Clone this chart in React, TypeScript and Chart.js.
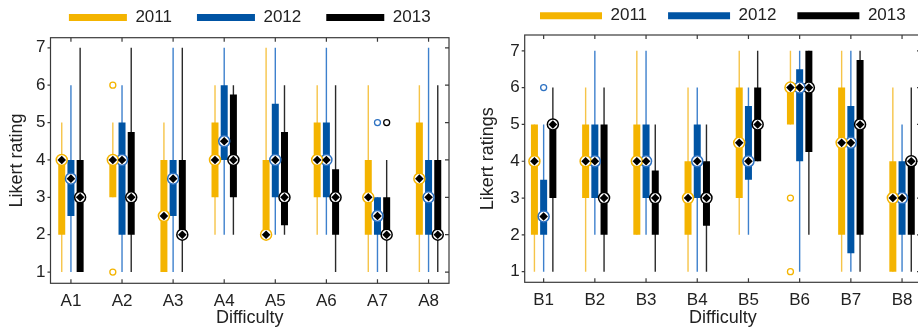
import React, { useEffect, useRef } from 'react';
import { Chart, registerables } from 'chart.js';

Chart.register(...registerables);
Chart.defaults.font.family = "'Liberation Sans', Arial, Helvetica, sans-serif";
Chart.defaults.color = '#222';

const YEARS = ['2011', '2012', '2013'];
const Y_TICKS = [1, 2, 3, 4, 5, 6, 7];

// ---------- Panel A ----------
const A_CATEGORIES = ['A1', 'A2', 'A3', 'A4', 'A5', 'A6', 'A7', 'A8'];

const A_2011_LOW = [1, 3, 1, 2, 2, 2, 1, 1];
const A_2011_Q1 = [2, 3, 1, 3, 2, 3, 2, 2];
const A_2011_MEDIAN = [4, 4, 2.5, 4, 2, 4, 3, 3.5];
const A_2011_Q3 = [4, 4, 4, 5, 4, 5, 4, 5];
const A_2011_HIGH = [5, 5, 5, 6, 7, 6, 6, 6];
const A_2011_OUTLIERS: [string, number][] = [['A2', 6], ['A2', 1]];

const A_2012_LOW = [1, 1, 1, 2, 2, 2, 1, 1];
const A_2012_Q1 = [2.5, 2, 2.5, 4, 3, 3, 2, 2];
const A_2012_MEDIAN = [3.5, 4, 3.5, 4.5, 4, 4, 2.5, 3];
const A_2012_Q3 = [4, 5, 4, 6, 5.5, 5, 3, 4];
const A_2012_HIGH = [6, 6, 7, 7, 7, 7, 3, 7];
const A_2012_OUTLIERS: [string, number][] = [['A7', 5]];

const A_2013_LOW = [1, 1, 1, 2, 2, 1, 1, 1];
const A_2013_Q1 = [1, 2, 2, 3, 2.25, 2, 2, 2];
const A_2013_MEDIAN = [3, 3, 2, 4, 3, 3, 2, 2];
const A_2013_Q3 = [4, 4.75, 4, 5.75, 4.75, 3.75, 3, 4];
const A_2013_HIGH = [7, 7, 7, 6, 6, 6, 4, 6];
const A_2013_OUTLIERS: [string, number][] = [['A7', 5]];

// ---------- Panel B ----------
const B_CATEGORIES = ['B1', 'B2', 'B3', 'B4', 'B5', 'B6', 'B7', 'B8'];

const B_2011_LOW = [1, 1, 2, 1, 2, 5, 1, 1];
const B_2011_Q1 = [2, 3, 2, 2, 3, 5, 2, 1];
const B_2011_MEDIAN = [4, 4, 4, 3, 4.5, 6, 4.5, 3];
const B_2011_Q3 = [5, 5, 5, 4, 6, 6, 6, 4];
const B_2011_HIGH = [5, 6, 7, 6, 7, 7, 7, 6];
const B_2011_OUTLIERS: [string, number][] = [['B6', 3], ['B6', 1]];

const B_2012_LOW = [1, 2, 2, 1, 2, 1, 1, 1];
const B_2012_Q1 = [2, 3, 3, 3, 3.5, 4, 1.5, 2];
const B_2012_MEDIAN = [2.5, 4, 4, 4, 4, 6, 4.5, 3];
const B_2012_Q3 = [3.5, 5, 5, 5, 5.5, 6.5, 5.5, 4];
const B_2012_HIGH = [5, 7, 7, 6, 6, 7, 7, 5];
const B_2012_OUTLIERS: [string, number][] = [['B1', 6]];

const B_2013_LOW = [1, 1, 1, 1, 4, 2, 1, 1];
const B_2013_Q1 = [3, 2, 2, 2.25, 4, 4.25, 2, 2];
const B_2013_MEDIAN = [5, 3, 3, 3, 5, 6, 5, 4];
const B_2013_Q3 = [5, 5, 3.75, 4, 6, 7, 6.75, 4];
const B_2013_HIGH = [6, 6, 5, 5, 7, 7, 7, 6];
const B_2013_OUTLIERS: [string, number][] = [];

// ---------- styles ----------
const BOX_COLORS = ['#F4B400', '#0054A4', '#000000'];
const WHISKER_COLORS = ['#F6C448', '#3D80CD', '#2a2a2a'];
const RING_COLORS = ['#F4B400', '#2E72C2', '#000000'];
const TEXT = '#222222';
const FRAME = '#3a3a3a';
const CAT_PCT = 0.54;
const BAR_PCT = 0.76;
const LEGEND_FONT = 17;

type Series = {
  low: number[];
  q1: number[];
  median: number[];
  q3: number[];
  high: number[];
  outliers: [string, number][];
};

const A_SERIES: Series[] = [
  { low: A_2011_LOW, q1: A_2011_Q1, median: A_2011_MEDIAN, q3: A_2011_Q3, high: A_2011_HIGH, outliers: A_2011_OUTLIERS },
  { low: A_2012_LOW, q1: A_2012_Q1, median: A_2012_MEDIAN, q3: A_2012_Q3, high: A_2012_HIGH, outliers: A_2012_OUTLIERS },
  { low: A_2013_LOW, q1: A_2013_Q1, median: A_2013_MEDIAN, q3: A_2013_Q3, high: A_2013_HIGH, outliers: A_2013_OUTLIERS },
];
const B_SERIES: Series[] = [
  { low: B_2011_LOW, q1: B_2011_Q1, median: B_2011_MEDIAN, q3: B_2011_Q3, high: B_2011_HIGH, outliers: B_2011_OUTLIERS },
  { low: B_2012_LOW, q1: B_2012_Q1, median: B_2012_MEDIAN, q3: B_2012_Q3, high: B_2012_HIGH, outliers: B_2012_OUTLIERS },
  { low: B_2013_LOW, q1: B_2013_Q1, median: B_2013_MEDIAN, q3: B_2013_Q3, high: B_2013_HIGH, outliers: B_2013_OUTLIERS },
];

const framePlugin = {
  id: 'frameTicks',
  afterLayout(chart: any, _args: any, opts: any) {
    // centre the legend row over the plot area and place its text row
    const lg = chart.legend;
    const a = chart.chartArea;
    if (lg && a && lg.lineWidths) {
      const pad = lg.options.labels.padding || 0;
      const half = (lg.lineWidths[0] + pad) / 2 + 2;
      const c = (a.left + a.right) / 2;
      lg.left = c - half;
      lg.right = c + half;
      lg.width = 2 * half;
      if (opts && typeof opts.legendTextY === 'number') {
        const h = lg.height;
        lg.top = opts.legendTextY - pad - LEGEND_FONT / 2;
        lg.bottom = lg.top + h;
      }
    }
  },
  afterDraw(chart: any) {
    const { ctx, chartArea } = chart;
    const { left, right, top, bottom } = chartArea;
    const x = chart.scales.x;
    const y = chart.scales.y;
    ctx.save();
    ctx.strokeStyle = FRAME;
    ctx.lineWidth = 1.2;
    ctx.strokeRect(left, top, right - left, bottom - top);
    ctx.beginPath();
    x.ticks.forEach((t: any) => {
      const px = x.getPixelForValue(t.value);
      ctx.moveTo(px, bottom);
      ctx.lineTo(px, bottom - 4);
      ctx.moveTo(px, top);
      ctx.lineTo(px, top + 4);
    });
    y.ticks.forEach((t: any) => {
      const py = y.getPixelForValue(t.value);
      ctx.moveTo(left - 3, py);
      ctx.lineTo(left, py);
      ctx.moveTo(right, py);
      ctx.lineTo(right - 4, py);
    });
    ctx.stroke();
    ctx.restore();
  },
};

type PanelProps = {
  categories: string[];
  series: Series[];
  yTitle: string;
  left: number;
  width: number;
  xMin: number;
  xMax: number;
  yMin: number;
  yMax: number;
  yAxisWidth: number;
  yTitlePad: number;
  padRight: number;
  plotTop: number;
  xAxisHeight: number;
  legendBoxWidth: number;
  legendPadding: number;
  legendTextY: number;
};

function Panel(props: PanelProps) {
  const ref = useRef<HTMLCanvasElement>(null);
  useEffect(() => {
    const canvas = ref.current;
    if (!canvas) return;
    const {
      categories, series, yTitle, xMin, xMax, yMin, yMax, yAxisWidth, yTitlePad,
      padRight, plotTop, xAxisHeight, legendBoxWidth, legendPadding, legendTextY,
    } = props;
    const slot = CAT_PCT / 3;
    const datasets: any[] = [];
    // legend height in Chart.js = font size + padding + 10
    const padTop = plotTop - (LEGEND_FONT + legendPadding + 10);

    series.forEach((s, k) => {
      datasets.push({
        type: 'bar',
        label: YEARS[k],
        stack: 'g' + k,
        data: categories.map((_, i) => ({ x: i + 1, y: [s.q1[i], s.q3[i]] })),
        backgroundColor: BOX_COLORS[k],
        borderColor: BOX_COLORS[k],
        borderWidth: 0,
        categoryPercentage: CAT_PCT,
        barPercentage: BAR_PCT,
        order: 4,
      });
    });
    series.forEach((s, k) => {
      datasets.push({
        type: 'bar',
        label: 'whisker' + k,
        stack: 'g' + k,
        data: categories.map((_, i) => ({ x: i + 1, y: [s.low[i], s.high[i]] })),
        backgroundColor: WHISKER_COLORS[k],
        borderWidth: 0,
        categoryPercentage: CAT_PCT,
        barPercentage: BAR_PCT,
        maxBarThickness: 1.4,
        order: 5,
      });
    });
    series.forEach((s, k) => {
      datasets.push({
        type: 'scatter',
        label: 'outlier' + k,
        data: s.outliers.map(([c, v]) => ({ x: categories.indexOf(c) + 1 + (k - 1) * slot, y: v })),
        pointRadius: 3,
        pointBackgroundColor: '#ffffff',
        pointBorderColor: RING_COLORS[k],
        pointBorderWidth: 1.3,
        order: 3,
      });
      datasets.push({
        type: 'scatter',
        label: 'ring' + k,
        data: categories.map((_, i) => ({ x: i + 1 + (k - 1) * slot, y: s.median[i] })),
        pointRadius: 5.5,
        pointBackgroundColor: '#ffffff',
        pointBorderColor: RING_COLORS[k],
        pointBorderWidth: 1.5,
        order: 2,
      });
      datasets.push({
        type: 'scatter',
        label: 'dot' + k,
        data: categories.map((_, i) => ({ x: i + 1 + (k - 1) * slot, y: s.median[i] })),
        pointStyle: 'rectRot',
        pointRadius: 4.3,
        pointBackgroundColor: '#000000',
        pointBorderColor: '#000000',
        pointBorderWidth: 0,
        order: 1,
      });
    });

    const chart = new Chart(canvas, {
      type: 'bar',
      data: { datasets },
      plugins: [framePlugin],
      options: {
        responsive: false,
        maintainAspectRatio: false,
        animation: false,
        events: [],
        layout: { padding: { left: 0, right: padRight, top: padTop, bottom: 0 } },
        plugins: {
          tooltip: { enabled: false },
          frameTicks: { legendTextY },
          legend: {
            display: true,
            position: 'top',
            labels: {
              boxWidth: legendBoxWidth,
              boxHeight: 7,
              padding: legendPadding,
              color: TEXT,
              font: { size: LEGEND_FONT },
              filter: (item: any) => YEARS.includes(item.text),
            },
          },
        },
        scales: {
          x: {
            type: 'linear',
            min: xMin,
            max: xMax,
            offset: false,
            grid: { display: false, drawTicks: false },
            border: { display: false },
            afterBuildTicks: (scale: any) => {
              scale.ticks = categories.map((_, i) => ({ value: i + 1 }));
            },
            ticks: {
              autoSkip: false,
              maxRotation: 0,
              minRotation: 0,
              padding: 8,
              color: TEXT,
              font: { size: 17 },
              callback: (v: any) => categories[Math.round(Number(v)) - 1] ?? '',
            },
            title: {
              display: true,
              text: 'Difficulty',
              color: TEXT,
              font: { size: 18 },
              padding: { top: 0, bottom: 0 },
            },
            afterFit: (scale: any) => {
              scale.height = xAxisHeight;
              scale.paddingLeft = 0;
              scale.paddingRight = 0;
            },
          },
          y: {
            type: 'linear',
            min: yMin,
            max: yMax,
            stacked: false,
            grid: { display: false, drawTicks: false },
            border: { display: false },
            afterBuildTicks: (scale: any) => {
              scale.ticks = Y_TICKS.map((v) => ({ value: v }));
            },
            ticks: { padding: 5, color: TEXT, font: { size: 17 } },
            title: {
              display: true,
              text: yTitle,
              color: TEXT,
              font: { size: 18 },
              padding: { top: yTitlePad, bottom: 0 },
            },
            afterFit: (scale: any) => {
              scale.width = yAxisWidth;
              scale.paddingTop = 0;
              scale.paddingBottom = 0;
            },
          },
        },
      } as any,
    });
    return () => chart.destroy();
  }, []);
  return (
    <canvas
      ref={ref}
      width={props.width}
      height={329}
      style={{ position: 'absolute', left: props.left, top: 0, width: props.width, height: 329 }}
    />
  );
}

export default function App() {
  return (
    <div style={{ position: 'absolute', left: 0, top: 0, width: 918, height: 329, overflow: 'hidden', background: '#ffffff' }}>
      <Panel
        categories={A_CATEGORIES}
        series={A_SERIES}
        yTitle="Likert rating"
        left={0}
        width={458}
        xMin={0.6}
        xMax={8.4}
        yMin={0.7}
        yMax={7.27}
        yAxisWidth={50.5}
        yTitlePad={6}
        padRight={9}
        plotTop={37.7}
        xAxisHeight={45.7}
        legendBoxWidth={58}
        legendPadding={25}
        legendTextY={17.5}
      />
      <Panel
        categories={B_CATEGORIES}
        series={B_SERIES}
        yTitle="Likert ratings"
        left={458}
        width={470}
        xMin={0.63}
        xMax={8.37}
        yMin={0.71}
        yMax={7.43}
        yAxisWidth={66.7}
        yTitlePad={19}
        padRight={7}
        plotTop={35}
        xAxisHeight={46.7}
        legendBoxWidth={62}
        legendPadding={21}
        legendTextY={15.8}
      />
    </div>
  );
}
